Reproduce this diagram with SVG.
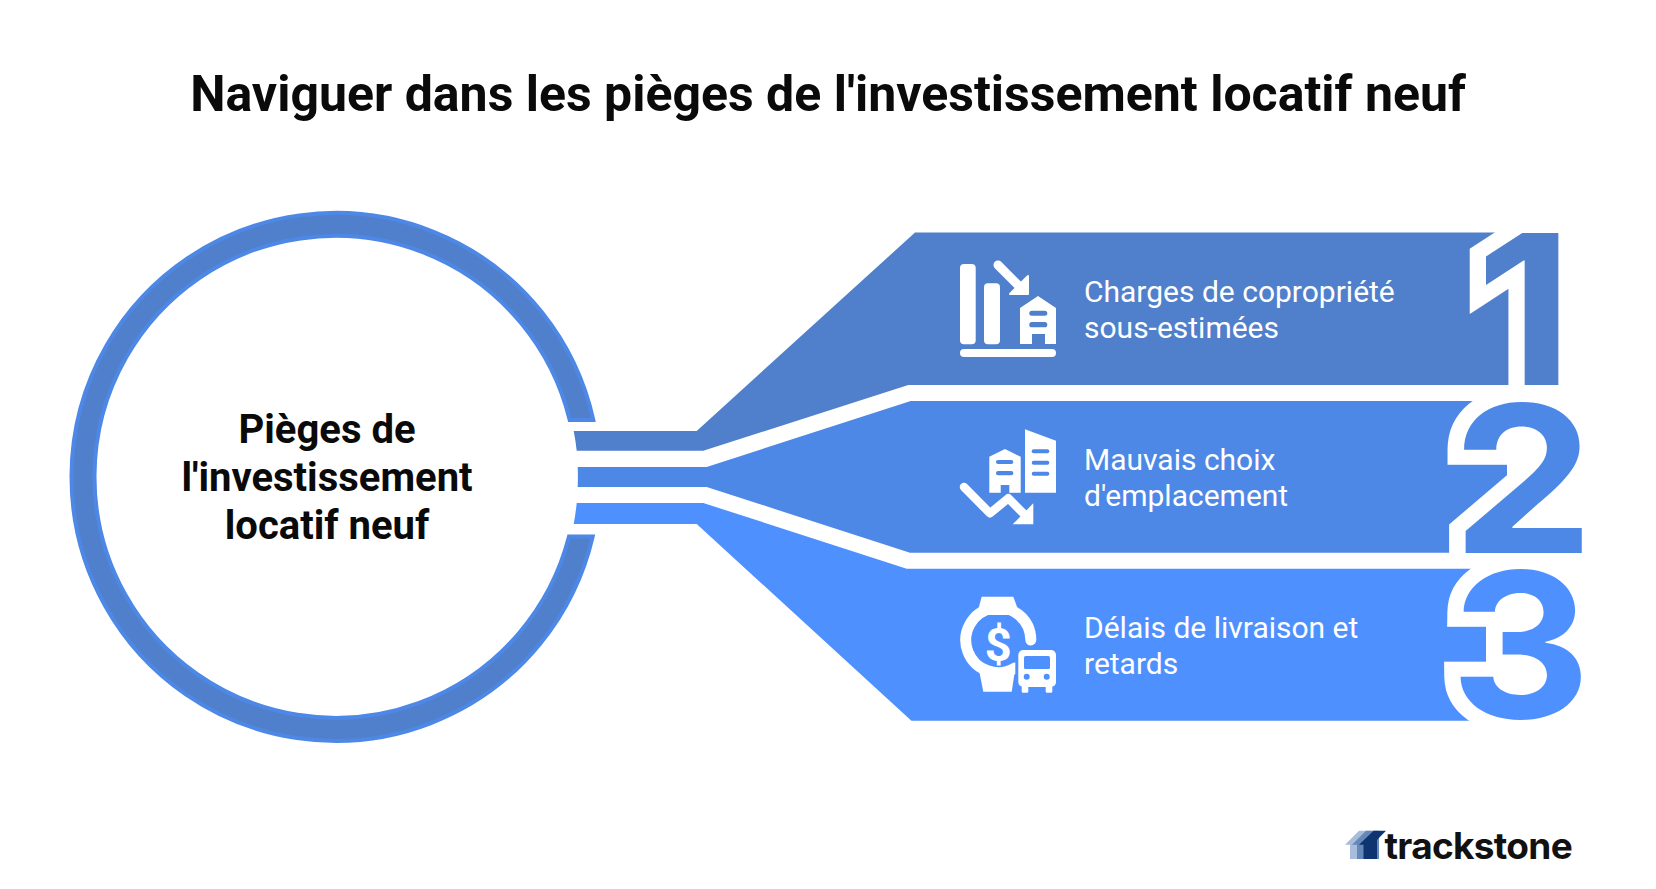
<svg xmlns="http://www.w3.org/2000/svg" width="1656" height="889" viewBox="0 0 1656 889">
<style>
.t{font-family:Roboto,"Liberation Sans",sans-serif}
.title{font-size:50px;font-weight:700;fill:#0a0a0a;text-anchor:middle}
.hub{font-size:40px;font-weight:700;fill:#0a0a0a;text-anchor:middle}
.lab{font-size:30px;fill:#fff}
.num{font-family:Inter,"Liberation Sans",sans-serif;font-weight:700;stroke:#fff;stroke-width:30px;paint-order:stroke;stroke-linejoin:miter;stroke-miterlimit:8;text-anchor:end}
.w{fill:#fff}
.ln{fill:none;stroke:#fff;stroke-linecap:round;stroke-linejoin:round}
</style>
<rect width="1656" height="889" fill="#fff"/>
<text class="t title" x="828" y="111">Naviguer dans les pièges de l'investissement locatif neuf</text>
<g id="connectors">
<path fill="#5080cb" d="M573.7 431H696.7L915 232.5H1558V385H908.3L703.3 450.7H576.7A242 242 0 0 0 573.7 431Z"/>
<path fill="#4d88e6" d="M577.7 467H706.7L910.7 401H1507V552.7H910L706.7 487H577.7A242 242 0 0 0 577.7 467Z"/>
<path fill="#4f90ff" d="M576.7 503H703.3L906.7 568.7H1486V720.7H911.4L696.7 524H573.7A242 242 0 0 0 576.7 503Z"/>
</g>
<g id="hub">
<path fill="#5080cb" stroke="#4d88e6" stroke-width="4" d="M593.3 420A264 264 0 1 0 592.7 536.5H569A241 241 0 1 1 569.7 420Z"/>
<text class="t hub" x="327" y="443">Pièges de</text>
<text class="t hub" x="327" y="491">l'investissement</text>
<text class="t hub" x="327" y="539">locatif neuf</text>
</g>
<g id="node-1">
<text class="num" transform="translate(1573 385) scale(1.08 1)" font-size="209" fill="#5080cb">1</text>
<rect class="w" x="960" y="264" width="15.7" height="80.3" rx="4"/>
<rect class="w" x="984" y="283.3" width="16" height="61" rx="4"/>
<rect class="w" x="960" y="349" width="96" height="8" rx="4"/>
<path class="ln" stroke-width="9" d="M998 265L1021 288"/>
<path class="w" d="M1028 276V294H1010Z" stroke="#fff" stroke-width="2" stroke-linejoin="round"/>
<path class="w" d="M1020 308L1038 296L1056 308V344H1045V334H1032V344H1020Z"/>
<rect x="1029.3" y="310.7" width="18" height="5" rx="2.5" fill="#5080cb"/>
<rect x="1029.3" y="322" width="18" height="5.3" rx="2.6" fill="#5080cb"/>
<text class="t lab" x="1084" y="301.6">Charges de copropriété</text>
<text class="t lab" x="1084" y="337.6">sous-estimées</text>
</g>
<g id="node-2">
<text class="num" transform="translate(1594 552.7) scale(1.1 1)" font-size="205" fill="#4d88e6">2</text>
<path class="w" d="M1025 429.3L1056 440.7V492.7H1025Z"/>
<g fill="#4d88e6">
<rect x="1031.7" y="449.3" width="17.6" height="4" rx="2"/>
<rect x="1031.7" y="460.7" width="17.6" height="4" rx="2"/>
<rect x="1031.7" y="471.7" width="17.6" height="4" rx="2"/>
</g>
<path class="w" d="M989.3 456.7L1005 449L1020.7 456.7V492.7H1009.3V485H1000.7V492.7H989.3Z"/>
<g fill="#4d88e6">
<rect x="996" y="460" width="17.3" height="4" rx="2"/>
<rect x="996" y="471" width="17.3" height="4.3" rx="2"/>
</g>
<path class="ln" stroke-width="8.5" d="M964 487L990 513.3L1008.3 498.3L1025 515"/>
<path class="w" d="M1033.3 503.3V524.3H1012.7Z"/>
<text class="t lab" x="1084" y="469.6">Mauvais choix</text>
<text class="t lab" x="1084" y="505.6">d'emplacement</text>
</g>
<g id="node-3">
<text class="num" transform="translate(1590.7 718.3) scale(1.08 1)" font-size="202" fill="#4f90ff">3</text>
<path class="w" d="M981.7 596.7H1013.3L1020 615H976.7Z"/>
<path class="w" d="M979 670H1015L1011.7 691.7H983.3Z"/>
<path d="M1030.8 640A32.5 32.5 0 1 0 1015 668" fill="none" stroke="#fff" stroke-width="11" stroke-linecap="round"/>
<text x="998.3" y="661" font-family="Roboto,sans-serif" font-weight="700" font-size="47" fill="#fff" text-anchor="middle">$</text>
<rect class="w" x="1018.3" y="650" width="37.7" height="37" rx="5" stroke="#4f90ff" stroke-width="6" paint-order="stroke"/>
<rect x="1024" y="656" width="26" height="13" rx="1.5" fill="#4f90ff"/>
<circle cx="1026.7" cy="676.7" r="3" fill="#4f90ff"/>
<circle cx="1046.7" cy="676.7" r="3" fill="#4f90ff"/>
<rect class="w" x="1021.7" y="686" width="6.6" height="6.7" rx="1.5"/>
<rect class="w" x="1045.7" y="686" width="6.6" height="6.7" rx="1.5"/>
<text class="t lab" x="1084" y="637.6">Délais de livraison et</text>
<text class="t lab" x="1084" y="673.6">retards</text>
</g>
<g id="logo">
<path fill="#a9bcdc" d="M1345 844.7L1359 830.7H1372V859H1350V844.7Z"/>
<path fill="#6688b8" d="M1352 844.7L1366 830.7H1379V859H1357V844.7Z"/>
<path fill="#0f3570" d="M1359 844.7L1373.5 830.7H1386L1377 840V859H1363.5V844.7Z"/>
<text x="1384.5" y="859" font-family="Inter,sans-serif" font-size="37" font-weight="700" letter-spacing="-0.7" fill="#111">trackstone</text>
</g>
</svg>
